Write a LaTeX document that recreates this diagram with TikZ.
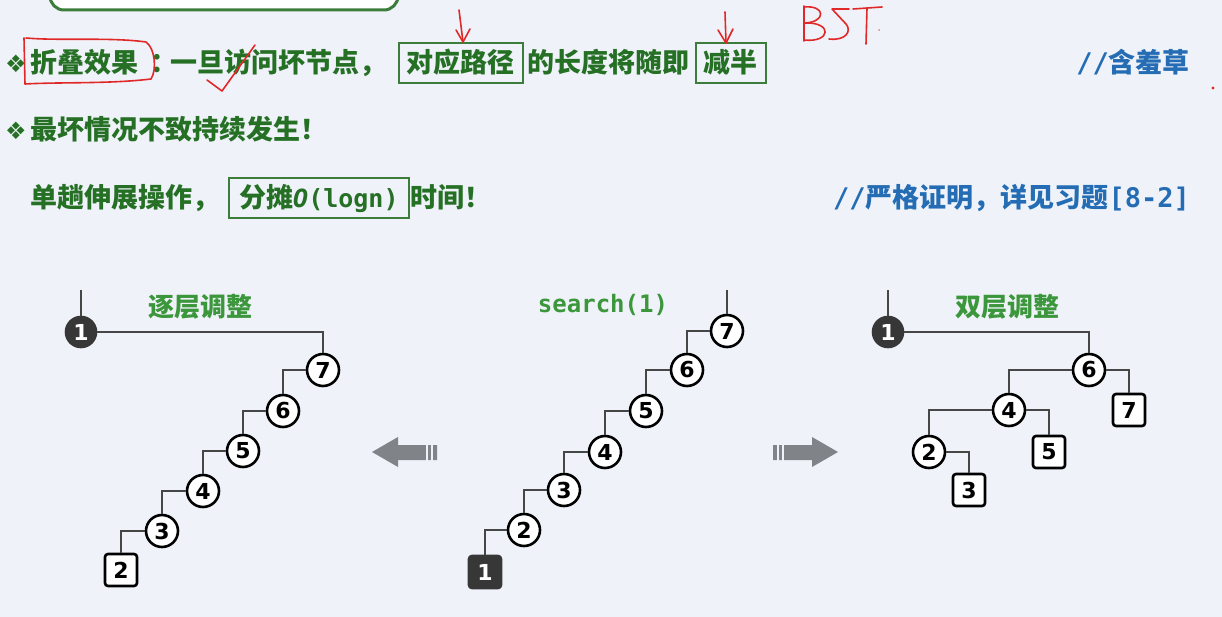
\documentclass[tikz,border=0pt]{standalone}
\usepackage{fontspec}
\newfontfamily\cjk{Noto Sans CJK SC}
\newfontfamily\sym{DejaVu Sans}
\newfontfamily\mono{DejaVu Sans Mono}
\definecolor{bg}{RGB}{239,243,249}
\definecolor{gtext}{RGB}{38,112,38}
\definecolor{glabel}{RGB}{60,150,60}
\definecolor{gbox}{RGB}{60,125,60}
\definecolor{btext}{RGB}{36,108,180}
\definecolor{pen}{RGB}{225,40,40}
\definecolor{edgec}{RGB}{70,70,70}
\definecolor{darknode}{RGB}{55,55,55}
\definecolor{arrowc}{RGB}{128,132,136}
\tikzset{
  txt/.style={anchor=west, inner sep=0pt, text height=22pt, text depth=3.5pt,
    font=\cjk\bfseries\fontsize{27}{30}\selectfont, text=gtext},
  bluetxt/.style={anchor=east, inner sep=0pt, text height=22pt, text depth=3.5pt,
    font=\cjk\bfseries\fontsize{27}{30}\selectfont, text=btext},
  kbox/.style={txt, draw=gbox, line width=1.8, inner xsep=8, inner ysep=7.5},
  bullet/.style={inner sep=0pt, font=\sym\fontsize{24}{24}\selectfont, text=gtext},
  treelabel/.style={inner sep=0pt, font=\cjk\bfseries\fontsize{26}{26}\selectfont, text=glabel},
  keynode/.style={draw=black, line width=2.6, fill=white, minimum size=32, inner sep=0pt,
    font=\sym\bfseries\fontsize{22}{22}\selectfont},
  circ/.style={keynode, circle},
  sq/.style={keynode, rectangle, rounded corners=3},
  hit/.style={fill=darknode, text=white, draw=darknode},
  link/.style={draw=edgec, line width=2.8},
  ink/.style={draw=pen, line width=1.6, line cap=round, line join=round},
  blockarrow/.style={fill=arrowc},
  stripe/.style={draw=bg, line width=1.4}
}
\begin{document}
\begin{tikzpicture}[x=1pt, y=-1pt]
\useasboundingbox (0,0) rectangle (1222,617);
\fill[bg] (0,0) rectangle (1222,617);
\clip (0,0) rectangle (1222,617);

% frame of the preceding block, cut by the top edge
\draw[draw=gbox, line width=3, fill=white, rounded corners=14] (50,-40) rectangle (398,10);

% line 1
\node[bullet] (b1) at (16,64) {❖};
\node[txt] (t1a) at (30,63) {折叠效果};
\node[txt] (t1b) at (150,63) {：};
\node[txt] (t1c) at (170,63) {一旦访问坏节点，};
\node[kbox] (t1d) at (398,63) {对应路径};
\node[txt] (t1e) at (527,63) {的长度将随即};
\node[kbox] (t1f) at (695,63) {减半};
\node[bluetxt] (t1g) at (1190,63) {{\mono //}含羞草};

% line 2
\node[bullet] (b2) at (16,131) {❖};
\node[txt] (t2) at (30,130) {最坏情况不致持续发生！};

% line 3
\node[txt] (t3a) at (30,198) {单趟伸展操作，};
\node[kbox, minimum width=180, align=left] (t3b) at (228,198)
  {分摊{\mono\fontsize{25}{25}\selectfont{\itshape O}(logn)}};
\node[txt] (t3c) at (410,198) {时间！};
\node[bluetxt] (t3d) at (1190,198) {{\mono //}严格证明，详见习题{\mono [8-2]}};

% pen marks
\draw[ink] (26,38) .. controls (60,41) and (110,37) .. (146,42)
  .. controls (155,48) and (157,70) .. (151,79)
  .. controls (110,84) and (60,82) .. (25,84) -- (24,38);
\draw[ink] (207,80) -- (222,91) -- (255,45);
\coordinate (p1a) at (459,10); \coordinate (p1b) at (463,42);
\draw[ink] (p1a) -- (p1b); \draw[ink] (456,30) -- (p1b) -- (470,29);
\coordinate (p2a) at (725,12); \coordinate (p2b) at (726,43);
\draw[ink] (p2a) -- (p2b); \draw[ink] (718,30) -- (p2b) -- (733,29);
% BST
\draw[ink] (804,6) -- (804,41);
\draw[ink] (804,7) .. controls (826,5) and (826,22) .. (805,23);
\draw[ink] (805,23) .. controls (833,22) and (831,43) .. (804,40);
\draw[ink] (849,9) -- (832,9) -- (846,24) .. controls (852,31) and (846,41) .. (829,39);
\draw[ink] (853,9) -- (882,7);
\draw[ink] (867,8) -- (866,44);
\fill[pen!60] (879,30) circle (1);
\fill[pen] (1213,88) circle (1.6);

% tree after single-level splaying
\node[treelabel] (lab1) at (200,307) {逐层调整};
\coordinate (L0) at (81,290);
\node[circ, hit, minimum size=30] (L1) at (81,332) {1};
\node[circ] (L7) at (323,370) {7};
\node[circ] (L6) at (283,411) {6};
\node[circ] (L5) at (243,451) {5};
\node[circ] (L4) at (203,491) {4};
\node[circ] (L3) at (162,531) {3};
\node[sq] (L2) at (121,570) {2};
\draw[link] (L0) -- (L1.north);
\draw[link] (L1.east) -| (L7.north);
\draw[link] (L7.west) -| (L6.north);
\draw[link] (L6.west) -| (L5.north);
\draw[link] (L5.west) -| (L4.north);
\draw[link] (L4.west) -| (L3.north);
\draw[link] (L3.west) -| (L2.north);

% tree before the search
\node[inner sep=0pt, font=\mono\bfseries\fontsize{24}{24}\selectfont, text=glabel] (lab2) at (603,305) {search(1)};
\coordinate (M0) at (727,290);
\node[circ] (M7) at (727,331) {7};
\node[circ] (M6) at (687,370) {6};
\node[circ] (M5) at (646,411) {5};
\node[circ] (M4) at (605,452) {4};
\node[circ] (M3) at (564,490) {3};
\node[circ] (M2) at (524,530) {2};
\node[sq, hit] (M1) at (485,572) {1};
\draw[link] (M0) -- (M7.north);
\draw[link] (M7.west) -| (M6.north);
\draw[link] (M6.west) -| (M5.north);
\draw[link] (M5.west) -| (M4.north);
\draw[link] (M4.west) -| (M3.north);
\draw[link] (M3.west) -| (M2.north);
\draw[link] (M2.west) -| (M1.north);

% tree after double-level splaying
\node[treelabel] (lab3) at (1007,307) {双层调整};
\coordinate (R0) at (888,290);
\node[circ, hit, minimum size=30] (R1) at (888,332) {1};
\node[circ] (R6) at (1089,370) {6};
\node[circ] (R4) at (1009,410) {4};
\node[sq] (R7) at (1129,410) {7};
\node[circ] (R2) at (929,452) {2};
\node[sq] (R5) at (1049,452) {5};
\node[sq] (R3) at (969,490) {3};
\draw[link] (R0) -- (R1.north);
\draw[link] (R1.east) -| (R6.north);
\draw[link] (R6.west) -| (R4.north);
\draw[link] (R6.east) -| (R7.north);
\draw[link] (R4.west) -| (R2.north);
\draw[link] (R4.east) -| (R5.north);
\draw[link] (R2.east) -| (R3.north);

% transition arrows
\fill[blockarrow] (372,452) -- (398,437) -- (398,445) -- (437,445) -- (437,460) -- (398,460) -- (398,467) -- cycle;
\draw[stripe] (427,444) -- (427,461);
\draw[stripe] (432,444) -- (432,461);
\fill[blockarrow] (838,452) -- (812,437) -- (812,445) -- (773,445) -- (773,460) -- (812,460) -- (812,467) -- cycle;
\draw[stripe] (783,444) -- (783,461);
\draw[stripe] (778,444) -- (778,461);
\end{tikzpicture}
\end{document}
